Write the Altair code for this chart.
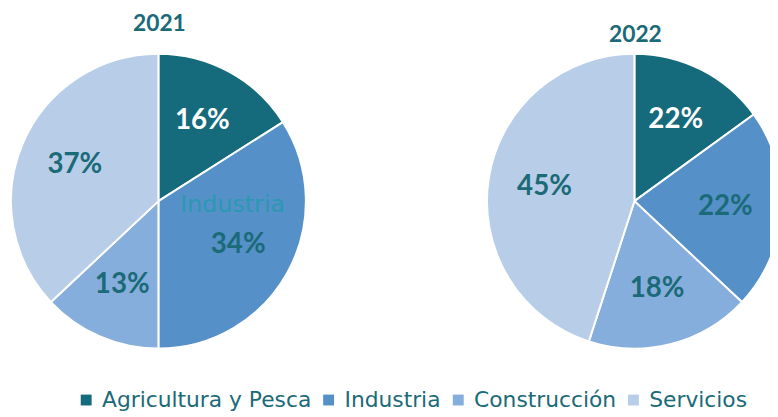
import altair as alt
import pandas as pd

categories = ["Agricultura y Pesca", "Industria", "Construcción", "Servicios"]
colors = ["#156b7b", "#5591c8", "#86aedc", "#b8cde8"]
values_2021 = [16, 34, 13, 37]
labels_2021 = ["16%", "34%", "13%", "37%"]
# slice sizes as drawn in the picture (the first label reads 22%)
values_2022 = [15, 22, 18, 45]
labels_2022 = ["22%", "22%", "18%", "45%"]

rows = []
for yr, vals, labs in (("2021", values_2021, labels_2021), ("2022", values_2022, labels_2022)):
    for i, (c, v, l) in enumerate(zip(categories, vals, labs)):
        rows.append({"year": yr, "cat": c, "value": v, "label": l, "idx": i})
df = pd.DataFrame(rows)

TEAL = "#1b6a78"
FONT = "Lato"

centers = {"2021": (152, 193), "2022": (633, 193)}
title_y = {"2021": 14, "2022": 25}

base = alt.Chart(df)
layers = []
for yr, (cx, cy) in centers.items():
    b = base.transform_filter(alt.datum.year == yr)
    arc = b.mark_arc(outerRadius=149, stroke="white", strokeWidth=2).encode(
        theta=alt.Theta("value:Q", stack=True),
        order=alt.Order("idx:Q"),
        color=alt.Color(
            "cat:N",
            scale=alt.Scale(domain=categories, range=colors),
            sort=categories,
            legend=alt.Legend(
                title=None,
                orient="none",
                legendX=68,
                legendY=383,
                direction="horizontal",
                symbolType="square",
                symbolSize=121,
                symbolStrokeWidth=0,
                labelFont="DejaVu Sans",
                labelFontSize=22,
                labelColor=TEAL,
                labelOffset=5,
                labelLimit=0,
                columnPadding=6,
            ),
        ),
        x=alt.value(cx),
        y=alt.value(cy),
    )
    txt = b.mark_text(radius=92, font=FONT, fontSize=28, fontWeight="bold").encode(
        theta=alt.Theta("value:Q", stack=True),
        order=alt.Order("idx:Q"),
        text="label:N",
        color=alt.condition(alt.datum.idx == 0, alt.value("white"), alt.value(TEAL)),
        x=alt.value(cx),
        y=alt.value(cy),
    )
    ttl = alt.Chart(pd.DataFrame({"t": [yr]})).mark_text(
        font=FONT, fontSize=23, fontWeight="bold", color=TEAL
    ).encode(text="t:N", x=alt.value(cx + 1), y=alt.value(title_y[yr]))
    layers += [arc, txt, ttl]

stray = alt.Chart(pd.DataFrame({"t": ["Industria"]})).mark_text(
    font="DejaVu Sans", fontSize=24, color="#2b98b1"
).encode(text="t:N", x=alt.value(227), y=alt.value(197))
layers.append(stray)

chart = alt.layer(*layers).properties(
    width=770, height=409, autosize=alt.AutoSizeParams(type="none"), padding=0
).configure_view(stroke=None)

chart.save("out.html", embed_options={"renderer": "svg", "actions": False})
